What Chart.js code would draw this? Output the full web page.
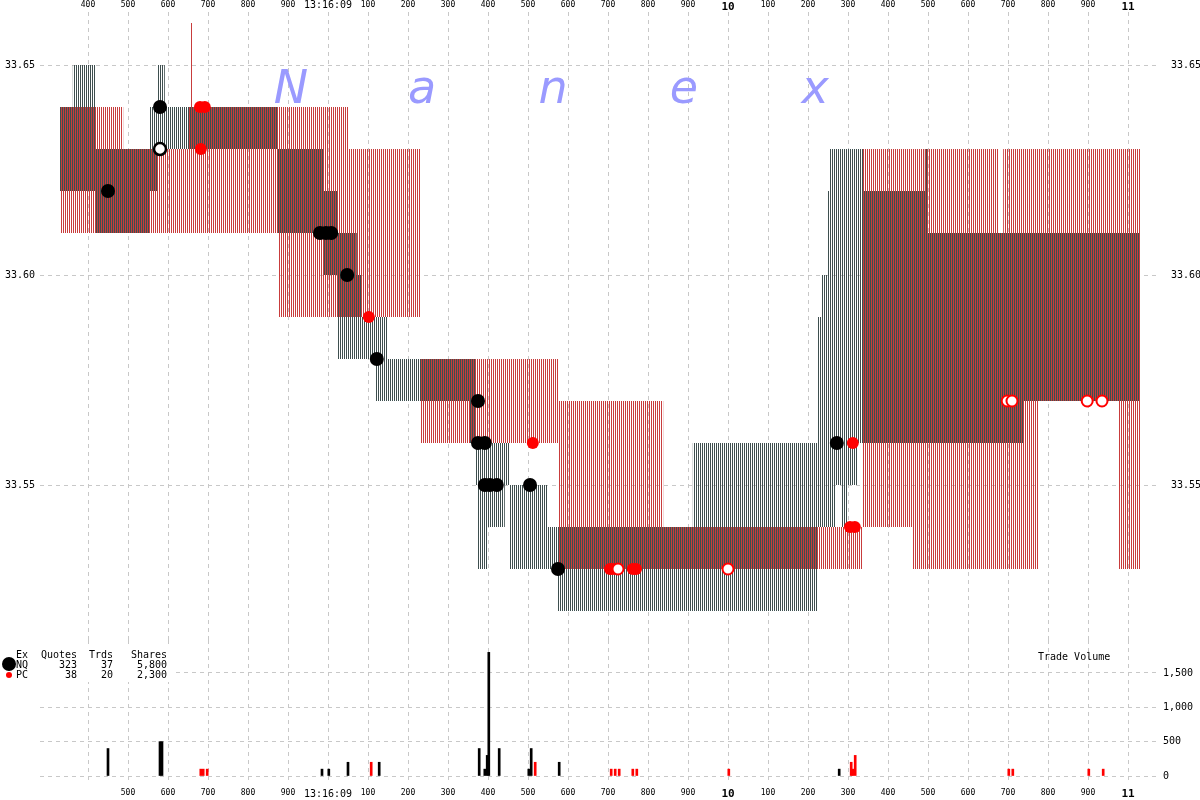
<!DOCTYPE html>
<html>
<head>
<meta charset="utf-8">
<script src="https://cdn.jsdelivr.net/npm/chart.js@4.4.1/dist/chart.umd.min.js"></script>
<style>
html, body { margin: 0; padding: 0; background: #fff; }
#wrap { position: relative; width: 1200px; height: 800px; }
#priceBox { position: absolute; left: 0; top: 0; width: 1200px; height: 640px; }
#volBox { position: absolute; left: 0; top: 640px; width: 1200px; height: 160px; }
</style>
</head>
<body>
<div id="wrap">
  <div id="priceBox"><canvas id="priceChart"></canvas></div>
  <div id="volBox"><canvas id="volChart"></canvas></div>
</div>
<script>
// time is in milliseconds after 13:16:08
var timeTicks = [400, 500, 600, 700, 800, 900, 1000, 1100, 1200, 1300, 1400, 1500, 1600, 1700, 1800, 1900,
    2000, 2100, 2200, 2300, 2400, 2500, 2600, 2700, 2800, 2900, 3000];
var timeTickLabels = ['400', '500', '600', '700', '800', '900', '13:16:09', '100', '200', '300', '400', '500', '600', '700', '800', '900',
    '10', '100', '200', '300', '400', '500', '600', '700', '800', '900', '11'];
var priceTicks = [33.55, 33.60, 33.65];
var priceTickLabels = ['33.55', '33.60', '33.65'];
var volTicks = [0, 500, 1000, 1500];
var volTickLabels = ['0', '500', '1,000', '1,500'];

// NQ quote (bid / ask) each time it changes
var nqQuoteTime = [330, 362, 418, 555, 575, 592, 875, 988, 1025, 1072, 1085, 1120, 1148, 1355, 1370, 1375, 1400, 1442,
    1455, 1550, 1575, 1912, 2225, 2235, 2250, 2255, 2268, 2285, 2298, 2325, 2338, 2492, 2500, 2738, 3030];
var nqBid = [33.62, 33.62, 33.61, 33.62, 33.63, 33.63, 33.61, 33.60, 33.58, 33.58, 33.58, 33.57, 33.57, 33.56, 33.55, 33.53, 33.54, 33.55,
    33.53, 33.53, 33.52, 33.52, 33.54, 33.54, 33.54, 33.54, 33.55, 33.54, 33.55, 33.56, 33.56, 33.56, 33.56, 33.57, 33.57];
var nqAsk = [33.64, 33.65, 33.63, 33.64, 33.65, 33.64, 33.63, 33.62, 33.61, 33.60, 33.59, 33.59, 33.58, 33.58, 33.56, 33.56, 33.56, 33.56,
    33.55, 33.54, 33.54, 33.56, 33.59, 33.60, 33.62, 33.63, 33.63, 33.63, 33.63, 33.63, 33.62, 33.63, 33.61, 33.61, 33.61];

// PC quote
var pcQuoteTime = [330, 488, 650, 657, 662, 875, 1050, 1230, 1575, 1838, 2335, 2462, 2675, 2688, 2775, 2975, 3030];
var pcBid = [33.61, 33.61, 33.61, 33.61, 33.61, 33.59, 33.59, 33.56, 33.53, 33.53, 33.54, 33.53, 33.53, 33.53, 33.57, 33.53, 33.53];
var pcAsk = [33.64, 33.63, 33.64, 33.66, 33.64, 33.64, 33.63, 33.58, 33.57, 33.54, 33.63, 33.63, 33.61, 33.63, 33.63, 33.63, 33.63];

// trades
var nqTradeTime = [450, 580, 980, 995, 1008, 1048, 1122, 1375, 1375, 1392, 1392, 1405, 1422, 1505, 1575, 2272];
var nqTradePrice = [33.62, 33.64, 33.61, 33.61, 33.61, 33.60, 33.58, 33.57, 33.56, 33.56, 33.55, 33.55, 33.55, 33.55, 33.53, 33.56];
var nqRingTime = [580];
var nqRingPrice = [33.63];
var pcTradeTime = [680, 682, 692, 1102, 1512, 1705, 1712, 1762, 1770, 2305, 2312, 2317];
var pcTradePrice = [33.64, 33.63, 33.64, 33.59, 33.56, 33.53, 33.53, 33.53, 33.53, 33.54, 33.56, 33.54];
var pcRingTime = [1725, 2000, 2698, 2710, 2898, 2935];
var pcRingPrice = [33.53, 33.53, 33.57, 33.57, 33.57, 33.57];

// trade volume
var nqVolTime = [450, 580, 585, 985, 1002, 1050, 1128, 1378, 1392, 1398, 1402, 1428, 1502, 1508, 1578, 2278];
var nqVolShares = [400, 500, 500, 100, 100, 200, 200, 400, 100, 300, 1800, 400, 100, 400, 200, 100];
var pcVolTime = [682, 688, 698, 1108, 1518, 1708, 1718, 1728, 1762, 1772, 2002, 2308, 2312, 2318, 2702, 2712, 2902, 2938];
var pcVolShares = [100, 100, 100, 200, 200, 100, 100, 100, 100, 100, 100, 200, 100, 300, 100, 100, 100, 100];

// summary box
var legendEx = ['NQ', 'PC'];
var legendQuotes = ['323', '38'];
var legendTrades = ['37', '20'];
var legendShares = ['5,800', '2,300'];
var brandLetters = ['N', 'a', 'n', 'e', 'x'];

var NQ_COLOR = '#3e4f4f';
var PC_COLOR = '#c83c3c';
var GRID = '#c8c8c8';
var MONO = '"DejaVu Sans Mono"';

function stripes(color, offset) {
    var c = document.createElement('canvas');
    c.width = 2; c.height = 1;
    var g = c.getContext('2d');
    g.fillStyle = color;
    g.fillRect(offset, 0, 1, 1);
    return g.createPattern(c, 'repeat');
}

function pts(xs, ys) {
    return xs.map(function (x, i) { return {x: x, y: ys[i]}; });
}

function tickFont(c) {
    var lbl = timeTickLabels[c.index];
    if (lbl === '10' || lbl === '11') return {family: MONO, size: 11, weight: 'bold'};
    if (lbl === '13:16:09') return {family: MONO, size: 10};
    return {family: MONO, size: 8};
}

// top axis: smaller line heights so the big labels sit lower
function topTickFont(c) {
    var lbl = timeTickLabels[c.index];
    if (lbl === '10' || lbl === '11') return {family: MONO, size: 11, weight: 'bold', lineHeight: 0.6};
    if (lbl === '13:16:09') return {family: MONO, size: 10, lineHeight: 0.9};
    return {family: MONO, size: 8};
}

function setTimeTicks(scale) {
    scale.ticks = timeTicks.map(function (v) { return {value: v}; });
}

// fixed axis box, no extra label padding
function fixSize(w, h) {
    return function (s) {
        if (w) s.width = w;
        if (h) s.height = h;
        s.paddingTop = 0; s.paddingBottom = 0;
        s.paddingLeft = 0; s.paddingRight = 0;
    };
}

function quoteLine(data, fill, pattern) {
    return {
        type: 'line', data: data, stepped: true, fill: fill,
        backgroundColor: pattern || 'transparent',
        borderColor: 'transparent', borderWidth: 0, pointRadius: 0
    };
}

const watermark = {
    id: 'watermark',
    beforeDatasetsDraw(chart) {
        const ctx = chart.ctx;
        ctx.save();
        ctx.font = 'italic 46px "DejaVu Sans"';
        ctx.fillStyle = '#9a9aff';
        ctx.textAlign = 'center';
        brandLetters.forEach(function (ch, i) {
            ctx.fillText(ch, 291 + i * 131, 103);
        });
        ctx.restore();
    }
};

const summaryBox = {
    id: 'summaryBox',
    afterDraw(chart) {
        const ctx = chart.ctx;
        ctx.save();
        ctx.fillStyle = '#fff';
        ctx.fillRect(0, 8, 172, 34);
        ctx.fillStyle = '#000';
        ctx.font = '10px ' + MONO;
        ctx.textBaseline = 'middle';
        ctx.textAlign = 'right';
        var cols = [28, 77, 113, 167];
        var head = ['Ex', 'Quotes', 'Trds', 'Shares'];
        head.forEach(function (h, i) { ctx.fillText(h, cols[i], 15); });
        for (var r = 0; r < legendEx.length; r++) {
            var y = 25 + r * 10;
            ctx.fillText(legendEx[r], cols[0], y);
            ctx.fillText(legendQuotes[r], cols[1], y);
            ctx.fillText(legendTrades[r], cols[2], y);
            ctx.fillText(legendShares[r], cols[3], y);
        }
        ctx.beginPath();
        ctx.arc(9, 24, 7, 0, Math.PI * 2);
        ctx.fill();
        ctx.fillStyle = 'red';
        ctx.beginPath();
        ctx.arc(9, 35, 3, 0, Math.PI * 2);
        ctx.fill();
        ctx.fillStyle = '#000';
        ctx.textAlign = 'left';
        ctx.fillText('Trade Volume', 1038, 17);
        ctx.restore();
    }
};

var nqPattern = stripes(NQ_COLOR, 0);
var pcPattern = stripes(PC_COLOR, 1);

new Chart(document.getElementById('priceChart'), {
    type: 'line',
    data: {
        datasets: [
            {type: 'scatter', data: pts(nqTradeTime, nqTradePrice), pointRadius: 7, pointBackgroundColor: '#000', pointBorderWidth: 0},
            {type: 'scatter', data: pts(nqRingTime, nqRingPrice), pointRadius: 6, pointBackgroundColor: '#fff', pointBorderColor: '#000', pointBorderWidth: 2.5},
            {type: 'scatter', data: pts(pcRingTime, pcRingPrice), pointRadius: 5.5, pointBackgroundColor: '#fff', pointBorderColor: 'red', pointBorderWidth: 2},
            {type: 'scatter', data: pts(pcTradeTime, pcTradePrice), pointRadius: 6, pointBackgroundColor: 'red', pointBorderWidth: 0},
            quoteLine(pts(nqQuoteTime, nqBid), false),
            quoteLine(pts(nqQuoteTime, nqAsk), '-1', nqPattern),
            quoteLine(pts(pcQuoteTime, pcBid), false),
            quoteLine(pts(pcQuoteTime, pcAsk), '-1', pcPattern)
        ]
    },
    options: {
        responsive: true,
        maintainAspectRatio: false,
        animation: false,
        events: [],
        layout: {padding: 0, autoPadding: false},
        plugins: {legend: {display: false}, tooltip: {enabled: false}},
        scales: {
            x: {
                type: 'linear', position: 'top', min: 280, max: 3080,
                afterBuildTicks: setTimeTicks,
                afterFit: fixSize(0, 12),
                ticks: {
                    autoSkip: false, maxRotation: 0, padding: 2, color: '#000',
                    font: topTickFont,
                    callback: function (v, i) { return timeTickLabels[i]; }
                },
                grid: {color: GRID, drawTicks: false},
                border: {display: false, dash: [4, 4]}
            },
            y: {
                position: 'left', min: 33.5131, max: 33.66262,
                afterBuildTicks: function (s) { s.ticks = priceTicks.map(function (v) { return {value: v}; }); },
                afterFit: fixSize(40, 0),
                ticks: {
                    autoSkip: false, padding: 5, color: '#000', font: {family: MONO, size: 10},
                    callback: function (v, i) { return priceTickLabels[i]; }
                },
                grid: {color: GRID, drawTicks: false},
                border: {display: false, dash: [4, 4]}
            },
            y2: {
                position: 'right', min: 33.5131, max: 33.66262,
                afterBuildTicks: function (s) { s.ticks = priceTicks.map(function (v) { return {value: v}; }); },
                afterFit: fixSize(40, 0),
                ticks: {
                    autoSkip: false, padding: 3, color: '#000', font: {family: MONO, size: 10},
                    callback: function (v, i) { return priceTickLabels[i]; }
                },
                grid: {display: false},
                border: {display: false}
            }
        }
    },
    plugins: [watermark]
});

new Chart(document.getElementById('volChart'), {
    type: 'bar',
    data: {
        datasets: [
            {data: pts(nqVolTime, nqVolShares), backgroundColor: '#000', barThickness: 2, grouped: false, yAxisID: 'yv'},
            {data: pts(pcVolTime, pcVolShares), backgroundColor: 'red', barThickness: 2, grouped: false, yAxisID: 'yv'}
        ]
    },
    options: {
        responsive: true,
        maintainAspectRatio: false,
        animation: false,
        events: [],
        layout: {padding: 0, autoPadding: false},
        plugins: {legend: {display: false}, tooltip: {enabled: false}},
        scales: {
            x: {
                type: 'linear', position: 'bottom', min: 280, max: 3080, offset: false,
                afterBuildTicks: setTimeTicks,
                afterFit: fixSize(0, 24),
                ticks: {
                    autoSkip: false, maxRotation: 0, padding: 8, color: '#000',
                    font: tickFont,
                    callback: function (v, i) { return i === 0 ? '' : timeTickLabels[i]; }
                },
                grid: {color: GRID, offset: false, drawTicks: true, tickLength: 4},
                border: {display: false, dash: [4, 4]}
            },
            yl: {
                position: 'left', min: 0, max: 1980,
                afterFit: fixSize(40, 0),
                ticks: {display: false},
                grid: {display: false},
                border: {display: false}
            },
            yv: {
                position: 'right', min: 0, max: 1980,
                afterBuildTicks: function (s) { s.ticks = volTicks.map(function (v) { return {value: v}; }); },
                afterFit: fixSize(40, 0),
                ticks: {
                    autoSkip: false, padding: 3, color: '#000', font: {family: MONO, size: 10},
                    callback: function (v, i) { return volTickLabels[i]; }
                },
                grid: {color: GRID, drawTicks: false, drawOnChartArea: true},
                border: {display: false, dash: [4, 4]}
            }
        }
    },
    plugins: [summaryBox]
});
</script>
</body>
</html>
